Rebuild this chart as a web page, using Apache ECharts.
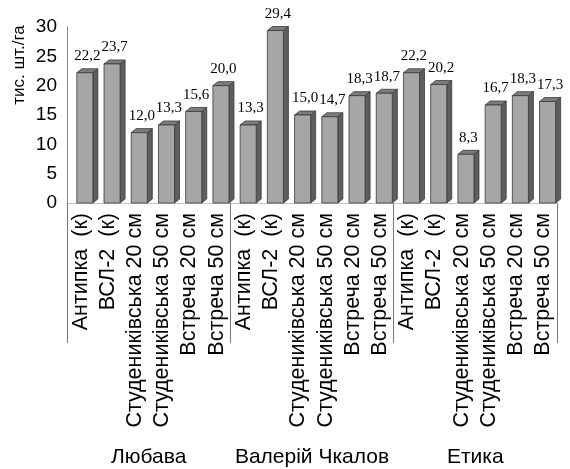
<!DOCTYPE html>
<html>
<head>
<meta charset="utf-8">
<script src="https://cdn.jsdelivr.net/npm/echarts@6/dist/echarts.min.js"></script>
<style>
  html, body { margin: 0; padding: 0; background: #fff; }
  #chart { width: 570px; height: 469px; }
</style>
</head>
<body>
<div id="chart"></div>
<script>
// Varieties (planting variants) shown within each cultivar group
const varieties = ['Антипка  (к)', 'ВСЛ-2  (к)', 'Студениківська 20 см', 'Студениківська 50 см', 'Встреча 20 см', 'Встреча 50 см'];
const groups = ['Любава', 'Валерій Чкалов', 'Етика'];

// Plant density, thousand plants per hectare
const lyubavaValues = [22.2, 23.7, 12.0, 13.3, 15.6, 20.0];
const chkalovValues = [13.3, 29.4, 15.0, 14.7, 18.3, 18.7];
const etykaValues   = [22.2, 20.2, 8.3, 16.7, 18.3, 17.3];

const yTicks = { min: 0, max: 30, interval: 5 };
const yName = 'тис. шт./га';

const categories = [].concat(varieties, varieties, varieties);
const values = [].concat(lyubavaValues, chkalovValues, etykaValues);

const sansFont = '"Liberation Sans", Arial, sans-serif';
const serifFont = '"Liberation Serif", "Times New Roman", serif';

// Pseudo-3D column: front face, right side face, top face and value label
function renderBar(params, api) {
  const idx = api.value(0);
  const v = api.value(1);
  const base = api.coord([idx, 0]);
  const top = api.coord([idx, v]);
  const slot = api.size([1, 0])[0];
  const w = slot * 0.59;
  const x0 = base[0] - slot * 0.14;
  const x1 = x0 + w;
  const dx = 5, dy = 4;
  const yb = base[1], yt = top[1];
  const edge = { stroke: '#3a3a3a', lineWidth: 0.8 };
  return {
    type: 'group',
    children: [
      {
        type: 'polygon',
        shape: { points: [[x1, yt], [x1 + dx, yt - dy], [x1 + dx, yb - dy], [x1, yb]] },
        style: Object.assign({ fill: '#5e5e5e' }, edge)
      },
      {
        type: 'polygon',
        shape: { points: [[x0, yt], [x0 + dx, yt - dy], [x1 + dx, yt - dy], [x1, yt]] },
        style: Object.assign({ fill: '#7c7c7c' }, edge)
      },
      {
        type: 'rect',
        shape: { x: x0, y: yt, width: w, height: yb - yt },
        style: Object.assign({ fill: '#a6a6a6' }, edge)
      },
      {
        type: 'text',
        x: x0 + (w + dx) / 2,
        y: yt - dy - 5,
        style: {
          text: v.toFixed(1).replace('.', ','),
          font: '15px ' + serifFont,
          fill: '#000',
          align: 'center',
          verticalAlign: 'bottom'
        }
      }
    ]
  };
}

const chart = echarts.init(document.getElementById('chart'), null, { renderer: 'canvas' });

chart.setOption({
  animation: false,
  backgroundColor: '#fff',
  grid: { left: 67, right: 13, top: 27, bottom: 266, containLabel: false },
  xAxis: [
    {
      type: 'category',
      data: categories,
      position: 'bottom',
      axisLine: { show: true, lineStyle: { color: '#c4c4c4', width: 1 } },
      axisTick: { show: false },
      splitLine: { show: false },
      axisLabel: {
        interval: 0,
        rotate: 90,
        margin: 10,
        fontSize: 21.5,
        fontFamily: sansFont,
        color: '#000'
      }
    },
    {
      type: 'category',
      data: groups,
      position: 'bottom',
      axisLine: { show: false },
      axisTick: { show: true, length: 140, lineStyle: { color: '#777', width: 1 } },
      splitLine: { show: false },
      axisLabel: {
        interval: 0,
        margin: 244,
        fontSize: 21,
        fontFamily: sansFont,
        color: '#000'
      }
    }
  ],
  yAxis: {
    type: 'value',
    min: yTicks.min,
    max: yTicks.max,
    interval: yTicks.interval,
    axisLine: { show: true, lineStyle: { color: '#888', width: 1 } },
    axisTick: { show: false },
    splitLine: { show: false },
    axisLabel: {
      margin: 10,
      fontSize: 19,
      fontFamily: sansFont,
      color: '#000'
    }
  },
  graphic: [
    {
      type: 'text',
      x: 19,
      y: 65,
      rotation: Math.PI / 2,
      style: {
        text: yName,
        font: '17px ' + sansFont,
        fill: '#000',
        align: 'center',
        verticalAlign: 'middle'
      }
    }
  ],
  series: [
    {
      type: 'custom',
      xAxisIndex: 0,
      yAxisIndex: 0,
      clip: false,
      renderItem: renderBar,
      encode: { x: 0, y: 1 },
      data: values.map(function (v, i) { return [i, v]; })
    }
  ]
});
</script>
</body>
</html>
